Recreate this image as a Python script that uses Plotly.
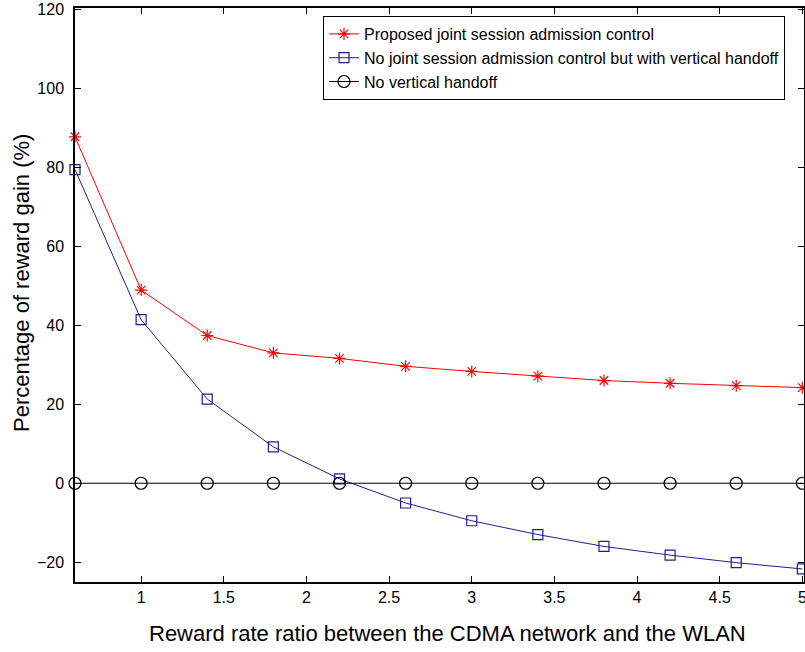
import plotly.graph_objects as go

x_ratio = [0.6, 1.0, 1.4, 1.8, 2.2, 2.6, 3.0, 3.4, 3.8, 4.2, 4.6, 5.0]
proposed = [87.7, 48.9, 37.4, 33.0, 31.6, 29.6, 28.3, 27.1, 26.0, 25.3, 24.7, 24.2]
no_joint = [79.4, 41.4, 21.3, 9.2, 1.1, -5.0, -9.5, -13.0, -16.0, -18.2, -20.1, -21.7]
no_vho = [0, 0, 0, 0, 0, 0, 0, 0, 0, 0, 0, 0]

names = ["Proposed joint session admission control",
         "No joint session admission control but with vertical handoff",
         "No vertical handoff"]

x_ticks = [1, 1.5, 2, 2.5, 3, 3.5, 4, 4.5, 5]
x_ticklabels = ["1", "1.5", "2", "2.5", "3", "3.5", "4", "4.5", "5"]
y_ticks = [-20, 0, 20, 40, 60, 80, 100, 120]

x_title = "Reward rate ratio between the CDMA network and the WLAN"
y_title = "Percentage of reward gain (%)"

font = "Liberation Sans, Arial, Helvetica, sans-serif"

W, H = 805, 652
ML, MR, MT, MB = 75, 1, 8, 70

fig = go.Figure()
fig.add_trace(go.Scatter(x=x_ratio, y=proposed, mode="lines+markers", name=names[0],
                         cliponaxis=False,
                         line=dict(color="red", width=1),
                         marker=dict(symbol="asterisk-open", size=10, color="red",
                                     line=dict(color="red", width=1.2))))
fig.add_trace(go.Scatter(x=x_ratio, y=no_joint, mode="lines+markers", name=names[1],
                         cliponaxis=False,
                         line=dict(color="#1f1f8f", width=1),
                         marker=dict(symbol="square-open", size=10, color="#1f1f8f",
                                     line=dict(color="#1f1f8f", width=1.2))))
fig.add_trace(go.Scatter(x=x_ratio, y=no_vho, mode="lines+markers", name=names[2],
                         cliponaxis=False,
                         line=dict(color="black", width=1),
                         marker=dict(symbol="circle-open", size=12, color="black",
                                     line=dict(color="black", width=1.2))))

axis_common = dict(showgrid=False, zeroline=False, showline=True, linecolor="black",
                   linewidth=1.5, mirror="allticks", ticks="inside", ticklen=6,
                   tickcolor="black", automargin=False, ticklabeloverflow="allow",
                   tickfont=dict(size=16, color="black", family=font))

fig.update_xaxes(range=[0.6, 5.01], tickvals=x_ticks, ticktext=x_ticklabels,
                 ticklabelstandoff=0, **axis_common)
fig.update_yaxes(range=[-25, 120.3], tickvals=y_ticks, ticklabelstandoff=6,
                 **axis_common)

pw = W - ML - MR
ph = H - MT - MB
fig.add_annotation(text=x_title, xref="paper", yref="paper",
                   x=(447 - ML) / pw, y=-(633 - (H - MB)) / ph,
                   xanchor="center", yanchor="middle", showarrow=False,
                   font=dict(size=22, color="black", family=font))
fig.add_annotation(text=y_title, xref="paper", yref="paper",
                   x=-(ML - 22) / pw, y=(H - MB - 283) / ph, textangle=-90,
                   xanchor="center", yanchor="middle", showarrow=False,
                   font=dict(size=22, color="black", family=font))

fig.update_layout(
    width=W, height=H,
    margin=dict(l=ML, r=MR, t=MT, b=MB),
    plot_bgcolor="white", paper_bgcolor="white",
    font=dict(family=font, color="black"),
    legend=dict(x=(323 - ML) / pw, y=(H - MB - 16) / ph, xanchor="left", yanchor="top",
                bordercolor="black", borderwidth=1, bgcolor="white",
                font=dict(size=16, color="black", family=font),
                tracegroupgap=0, itemwidth=30),
    showlegend=True,
)

post = ("document.body.style.margin='0';document.body.style.overflow='hidden';"
        "var gd=document.getElementsByClassName('plotly-graph-div')[0];"
        "Plotly.relayout(gd,{width:%d,height:%d});" % (W, H))

fig.write_html("out.html", post_script=post,
               config={"responsive": False, "displayModeBar": False})
